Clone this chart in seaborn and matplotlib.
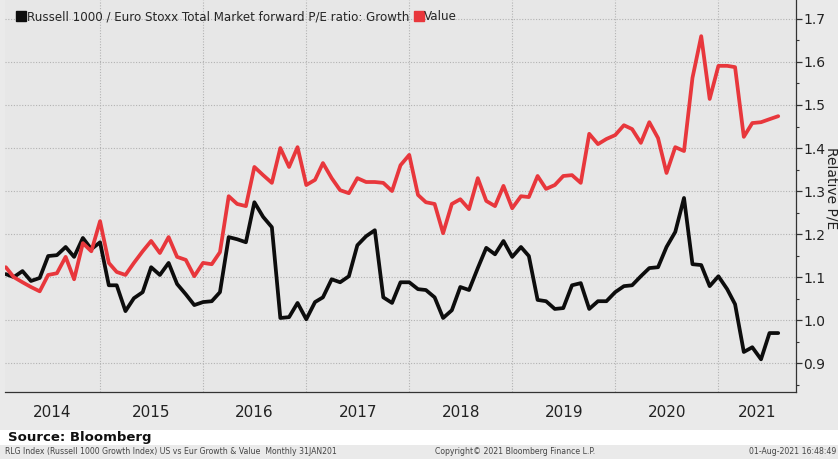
import numpy as np
import pandas as pd
import matplotlib
matplotlib.use("Agg")
import matplotlib.pyplot as plt
import matplotlib.dates as mdates
import matplotlib.transforms as mtransforms
from matplotlib.lines import Line2D
from matplotlib.patches import Rectangle
import seaborn as sns

# Monthly relative forward P/E, Russell 1000 vs Euro Stoxx Total Market
start_month = "2014-02-01"
growth = [
    1.107, 1.100, 1.114, 1.091, 1.098, 1.149, 1.151, 1.170, 1.147, 1.191, 1.165,
    1.181, 1.081, 1.081, 1.021, 1.051, 1.065, 1.123, 1.105, 1.133, 1.084, 1.060,
    1.035, 1.042, 1.044, 1.065, 1.193, 1.188, 1.181, 1.274, 1.240, 1.216, 1.005,
    1.007, 1.040, 1.002, 1.042, 1.053, 1.095, 1.088, 1.102, 1.174, 1.195, 1.209,
    1.053, 1.040, 1.088, 1.088, 1.072, 1.070, 1.053, 1.005, 1.023, 1.077, 1.070,
    1.121, 1.168, 1.153, 1.184, 1.147, 1.170, 1.149, 1.047, 1.044, 1.026, 1.028,
    1.081, 1.086, 1.026, 1.044, 1.044, 1.065, 1.079, 1.081, 1.102, 1.121, 1.123,
    1.170, 1.205, 1.284, 1.130, 1.128, 1.079, 1.102, 1.072, 1.037, 0.926, 0.937,
    0.909, 0.970, 0.970,
]
value = [
    1.123, 1.100, 1.088, 1.077, 1.067, 1.105, 1.109, 1.147, 1.095, 1.179, 1.160,
    1.230, 1.133, 1.112, 1.105, 1.133, 1.160, 1.184, 1.156, 1.193, 1.147, 1.140,
    1.102, 1.133, 1.130, 1.158, 1.288, 1.270, 1.265, 1.356, 1.337, 1.319, 1.400,
    1.356, 1.402, 1.314, 1.326, 1.365, 1.330, 1.302, 1.295, 1.330, 1.321, 1.321,
    1.319, 1.300, 1.360, 1.384, 1.291, 1.274, 1.270, 1.202, 1.270, 1.281, 1.258,
    1.330, 1.277, 1.265, 1.312, 1.260, 1.288, 1.286, 1.335, 1.305, 1.314, 1.335,
    1.337, 1.319, 1.433, 1.409, 1.421, 1.430, 1.453, 1.444, 1.412, 1.460, 1.423,
    1.342, 1.402, 1.393, 1.563, 1.660, 1.514, 1.591, 1.591, 1.588, 1.426, 1.458,
    1.460, 1.467, 1.474,
]
series_names = ["Growth", "Value"]
series_colors = ["#0d0d0d", "#e8373c"]
legend_title = "Russell 1000 / Euro Stoxx Total Market forward P/E ratio: "
years = list(range(2014, 2022))
y_ticks = [0.9, 1.0, 1.1, 1.2, 1.3, 1.4, 1.5, 1.6, 1.7]

dates = pd.date_range(start_month, periods=len(growth), freq="MS")
df = pd.DataFrame({
    "date": np.concatenate([dates, dates]),
    "pe": growth + value,
    "series": [series_names[0]] * len(growth) + [series_names[1]] * len(value),
})

sns.set_style("white")
plt.rcParams["font.family"] = ["DejaVu Sans"]

W, H = 838, 459
BG = "#e7e7e7"
fig = plt.figure(figsize=(W / 100, H / 100), dpi=100, facecolor="#eaeaea")

# white strip behind the source line
fig.patches.append(Rectangle((0, 1 - 445 / H), 1, 15 / H, transform=fig.transFigure,
                             facecolor="white", edgecolor="none", zorder=0))

ax = fig.add_axes([5 / W, 1 - 392 / H, 791 / W, 392 / H])
ax.set_facecolor(BG)

sns.lineplot(data=df, x="date", y="pe", hue="series", palette=series_colors,
             hue_order=series_names, linewidth=2.7, legend=False, ax=ax)

ax.set_xlim(pd.Timestamp("2014-01-29"), pd.Timestamp("2021-10-03"))
ax.set_ylim(0.833, 1.744)

# grid
for y in y_ticks:
    ax.axhline(y, color="#b3b3b3", linestyle=(0, (1, 1.5)), linewidth=0.8, zorder=0)
for yr in years[1:]:
    ax.axvline(pd.Timestamp(f"{yr}-01-01"), color="#b3b3b3", linestyle=(0, (1, 1.5)),
               linewidth=0.8, zorder=0)

for s in ["top", "left"]:
    ax.spines[s].set_visible(False)
ax.spines["bottom"].set_color("#333333")
ax.spines["right"].set_color("#333333")
ax.spines["bottom"].set_linewidth(0.9)
ax.spines["right"].set_linewidth(0.9)

# right-hand value axis
ax.yaxis.tick_right()
ax.yaxis.set_label_position("right")
ax.set_yticks(y_ticks)
ax.set_yticklabels([f"{v:.1f}" for v in y_ticks])
ax.set_yticks(np.arange(0.85, 1.75, 0.1), minor=True)
ax.tick_params(axis="y", which="major", direction="out", length=4, width=0.9,
               color="#333333", labelsize=10, pad=1, labelcolor="#222222")
ax.tick_params(axis="y", which="minor", direction="out", length=2.5, width=0.8,
               color="#333333")
ax.set_ylabel("Relative P/E", rotation=270, fontsize=10, color="#222222",
              va="center", ha="center")
ax.yaxis.set_label_coords((831.5 - 5) / 791, 0.52)

# year dividers as long ticks, quarters as short ticks, year names centred
ax.set_xticks([pd.Timestamp(f"{yr}-01-01") for yr in years[1:]])
ax.set_xticklabels([])
ax.xaxis.set_minor_locator(mdates.MonthLocator(bymonth=[4, 7, 10]))
ax.tick_params(axis="x", which="major", direction="out", length=27.5, width=0.8,
               color="#a0a0a0")
ax.tick_params(axis="x", which="minor", direction="out", length=2.5, width=0.9,
               color="#333333")
ax.set_xlabel("")

x0, x1 = [mdates.num2date(v).replace(tzinfo=None) for v in ax.get_xlim()]
trans = mtransforms.blended_transform_factory(ax.transData, ax.transAxes)
for yr in years:
    a = max(pd.Timestamp(f"{yr}-01-01"), pd.Timestamp(x0))
    b = min(pd.Timestamp(f"{yr + 1}-01-01"), pd.Timestamp(x1))
    mid = a + (b - a) / 2
    ax.text(mid, -0.053, str(yr), transform=trans, ha="center", va="center",
            fontsize=11, color="#222222")

# legend with square swatches
handles = [Line2D([], [], linestyle="none", marker="s", markersize=7,
                  color=c) for c in series_colors]
labels = [legend_title + series_names[0], series_names[1]]
ax.legend(handles, labels, loc="upper left", bbox_to_anchor=(0.008, 0.99),
          frameon=False, ncol=2, handlelength=0.6, handletextpad=0.15,
          columnspacing=0.5, fontsize=8.6, borderaxespad=0.25, borderpad=0.3)

# source and footer lines
fig.text(8 / W, 1 - 437 / H, "Source: Bloomberg", fontsize=9.5, fontweight="bold",
         va="center", ha="left", color="#111111")
fig.text(5 / W, 1 - 451 / H,
         "RLG Index (Russell 1000 Growth Index) US vs Eur Growth & Value  Monthly 31JAN201",
         fontsize=5.6, va="center", ha="left", color="#444444")
fig.text(515 / W, 1 - 451 / H, "Copyright\u00a9 2021 Bloomberg Finance L.P.",
         fontsize=5.6, va="center", ha="center", color="#444444")
fig.text(836 / W, 1 - 451 / H, "01-Aug-2021 16:48:49", fontsize=5.6,
         va="center", ha="right", color="#444444")

fig.savefig("out.png", dpi=100, facecolor=fig.get_facecolor())
